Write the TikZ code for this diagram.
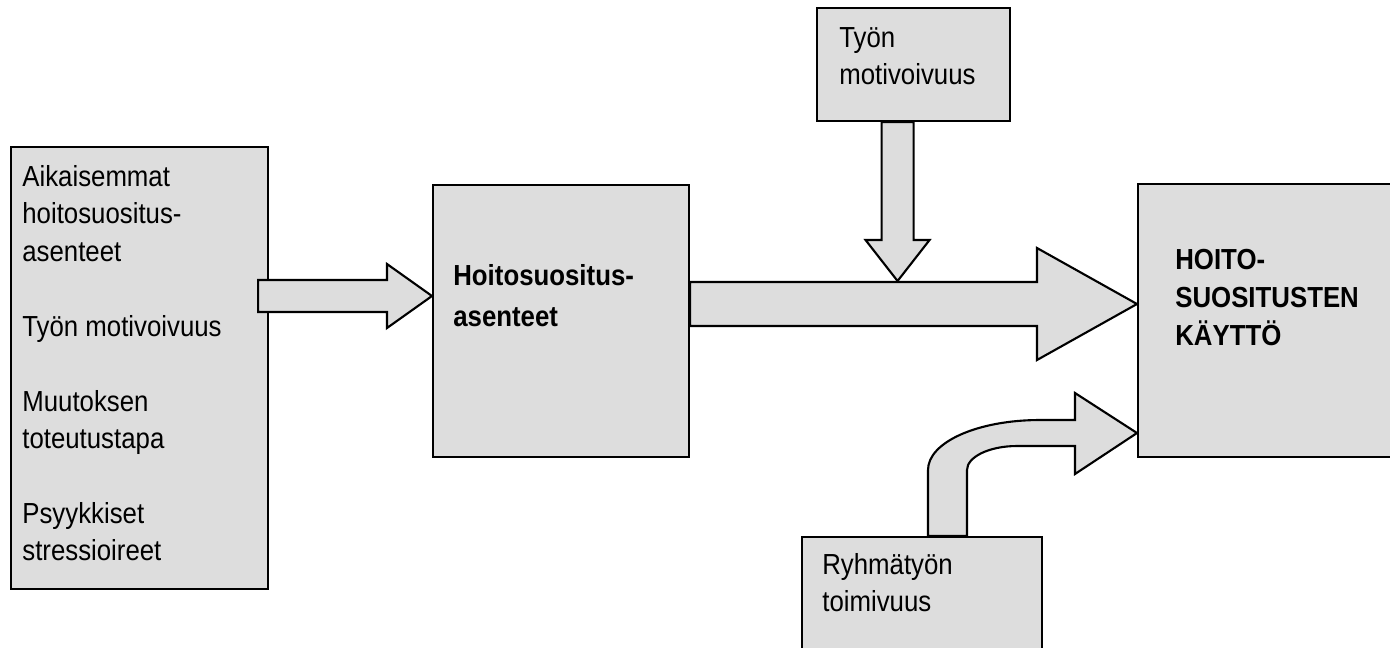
\documentclass[tikz,border=0pt]{standalone}
\usepackage{fontspec}
\setmainfont{Liberation Sans}[FakeStretch=0.89]
\usetikzlibrary{calc}
\definecolor{boxgray}{HTML}{DDDDDD}
\tikzset{
  box/.style={draw, fill=boxgray, line width=1.2pt, anchor=north west, inner sep=0pt},
  blockarrow/.style={draw, fill=boxgray, line width=1.2pt, line join=miter},
  txt/.style={inner sep=0pt, anchor=north west, align=left, font=\fontsize{16.5pt}{21.3pt}\selectfont},
  boldtxt/.style={txt, font=\fontsize{16.5pt}{23.2pt}\selectfont\bfseries},
}
\begin{document}
\begin{tikzpicture}[x=0.02cm, y=-0.02cm]
\useasboundingbox (0,0) rectangle (1390,647);
\clip (0,0) rectangle (1390,647);

\node[box, minimum width=257*0.02cm, minimum height=442*0.02cm] (lft) at (10,146) {};
\node[box, minimum width=256*0.02cm, minimum height=272*0.02cm] (mid) at (432,184) {};
\node[box, minimum width=193*0.02cm, minimum height=113*0.02cm] (top) at (816,7) {};
\node[box, minimum width=260*0.02cm, minimum height=273*0.02cm] (rgt) at (1137,183) {};
\node[box, minimum width=240*0.02cm, minimum height=130*0.02cm] (bot) at (801,536) {};

\node[txt] (lfttxt) at ($(lft.north west)+(12,14)$) {\strut Aikaisemmat\\hoitosuositus-\\asenteet\\[21.3pt]Työn motivoivuus\\[21.3pt]Muutoksen\\toteutustapa\\[21.3pt]Psyykkiset\\stressioireet};
\node[boldtxt] (midtxt) at ($(mid.north west)+(21,73)$) {\strut Hoitosuositus-\\asenteet};
\node[txt] (toptxt) at ($(top.north west)+(23,14)$) {\strut Työn\\motivoivuus};
\node[boldtxt, font=\fontsize{16.5pt}{21.8pt}\selectfont\bfseries] (rgttxt) at ($(rgt.north west)+(38,59)$) {\strut HOITO-\\SUOSITUSTEN\\KÄYTTÖ};
\node[txt] (bottxt) at ($(bot.north west)+(21,11.7)$) {\strut Ryhmätyön\\toimivuus};

% into the attitudes box
\coordinate (s1) at ($(lft.north east)+(-11,150)$);
\coordinate (e1) at (mid.west |- s1);
\draw[blockarrow] ($(s1)+(0,-16)$) -- ($(e1)+(-45,-16)$) -- ++(0,-16) -- (e1)
  -- ($(e1)+(-45,32)$) -- ++(0,-16) -- ($(s1)+(0,16)$) -- cycle;

% into the use box
\coordinate (s2) at ($(mid.north east)+(0,120)$);
\coordinate (e2) at (rgt.west |- s2);
\draw[blockarrow] ($(s2)+(0,-22)$) -- ($(e2)+(-100,-22)$) -- ++(0,-34) -- (e2)
  -- ($(e2)+(-100,56)$) -- ++(0,-34) -- ($(s2)+(0,22)$) -- cycle;

\coordinate (s3) at ($(top.south)+(-16,0)$);
\coordinate (e3) at ($(s3 |- s2)+(0,-23)$);
\draw[blockarrow] ($(s3)+(-16,0)$) -- ($(e3)+(-16,-41)$) -- ++(-16,0) -- (e3)
  -- ($(e3)+(32,-41)$) -- ++(-16,0) -- ($(s3)+(16,0)$) -- cycle;

\coordinate (s4) at ($(bot.north west)+(127,0)$);
\coordinate (e4) at ($(rgt.north west)+(0,250)$);
\draw[blockarrow] (s4) -- ++(0,-66) .. controls +(0,-28) and +(-62,0) .. ($(e4)+(-97,-13)$)
  -- ($(e4)+(-62,-13)$) -- ++(0,-27) -- (e4) -- ($(e4)+(-62,41)$) -- ++(0,-28)
  -- ($(e4)+(-120,13)$) .. controls +(-28,0) and +(0,-13) .. ($(s4)+(39,-66)$)
  -- ($(s4)+(39,0)$) -- cycle;
\end{tikzpicture}
\end{document}
